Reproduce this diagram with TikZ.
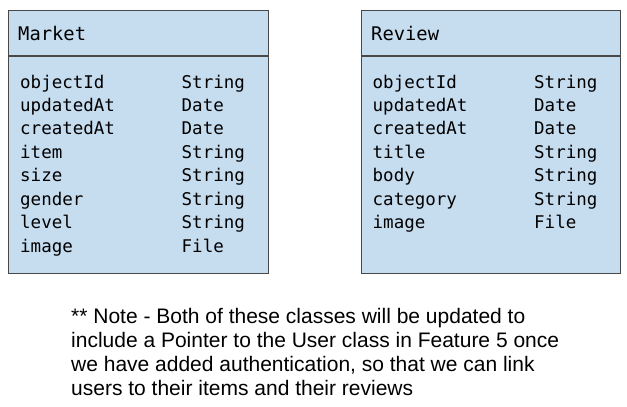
\documentclass[tikz,border=0pt]{standalone}
\usepackage{fontspec}
\setmainfont{Liberation Sans}
\newfontfamily\monofam{DejaVu Sans Mono}
\definecolor{boxfill}{RGB}{198,220,239}
\definecolor{boxline}{RGB}{72,72,72}
\begin{document}
\begin{tikzpicture}[x=1pt,y=-1pt,
  classbox/.style={draw=boxline, fill=boxfill, line width=1.3pt, rectangle, inner sep=0pt,
    minimum width=259.5pt, minimum height=263pt, anchor=north west},
  divider/.style={draw=boxline, line width=1.3pt},
  titletext/.style={font=\monofam\fontsize{18.8}{20}\selectfont, inner sep=0pt, anchor=base west, text=black},
  fieldtext/.style={font=\monofam\fontsize{17.5}{20}\selectfont, inner sep=0pt, anchor=base west, text=black},
  notetext/.style={font=\fontsize{21}{24}\selectfont, inner sep=0pt, anchor=base west, text=black}]
\useasboundingbox[fill=white] (0,0) rectangle (627,407);

% Market class
\node[classbox] (market) at (8,9.5) {};
\coordinate (mdl) at (8,56);
\coordinate (mdr) at (267.5,56);
\draw[divider] (mdl) -- (mdr);
\node[titletext] (mtitle) at (18,40) {Market};
\foreach \n/\t [count=\i from 0] in {objectId/String,updatedAt/Date,createdAt/Date,item/String,size/String,gender/String,level/String,image/File}{
  \node[fieldtext] (mf\i) at (20,88+23.47*\i) {\n};
  \node[fieldtext] (mt\i) at (181.5,88+23.47*\i) {\t};
}

% Review class
\node[classbox] (review) at (360.5,9.5) {};
\coordinate (rdl) at (360.5,56);
\coordinate (rdr) at (620,56);
\draw[divider] (rdl) -- (rdr);
\node[titletext] (rtitle) at (371,40) {Review};
\foreach \n/\t [count=\i from 0] in {objectId/String,updatedAt/Date,createdAt/Date,title/String,body/String,category/String,image/File}{
  \node[fieldtext] (rf\i) at (372.5,88+23.47*\i) {\n};
  \node[fieldtext] (rt\i) at (534,88+23.47*\i) {\t};
}

% Note
\node[notetext] (note1) at (71,323.5) {** Note - Both of these classes will be updated to};
\node[notetext] (note2) at (71,347.5) {include a Pointer to the User class in Feature 5 once};
\node[notetext] (note3) at (71,371.5) {we have added authentication, so that we can link};
\node[notetext] (note4) at (71,395.5) {users to their items and their reviews};
\end{tikzpicture}
\end{document}
